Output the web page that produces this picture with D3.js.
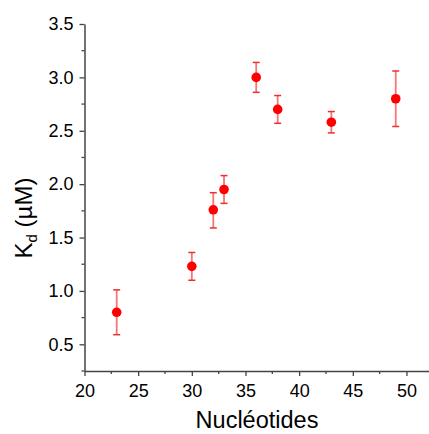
<!DOCTYPE html>
<html><head><meta charset="utf-8">
<script src="https://cdn.jsdelivr.net/npm/d3@7"></script>
<style>body{margin:0;background:#fff}svg{display:block}text{font-family:"Liberation Sans",Arial,sans-serif}</style>
</head><body>
<script>
const nucleotides = [23, 30, 32, 33, 36, 38, 43, 49];
const kd = [0.80, 1.23, 1.76, 1.95, 3.00, 2.70, 2.58, 2.80];
const errLow = [0.21, 0.13, 0.17, 0.13, 0.14, 0.13, 0.10, 0.26];
const errHigh = [0.21, 0.13, 0.16, 0.13, 0.14, 0.13, 0.10, 0.26];
const xTicks = [20, 25, 30, 35, 40, 45, 50];
const yTicks = [0.5, 1.0, 1.5, 2.0, 2.5, 3.0, 3.5];
const xMinor = [22.5, 27.5, 32.5, 37.5, 42.5, 47.5];
const yMinor = [0.25, 0.75, 1.25, 1.75, 2.25, 2.75, 3.25];

const W = 429, H = 434;
const svg = d3.select("body").append("svg").attr("width", W).attr("height", H);
const x = d3.scaleLinear().domain([20, 52.1]).range([84.5, 429]);
const y = d3.scaleLinear().domain([0.25, 3.5]).range([371, 24]);
const axisColor = "#444";

// minor ticks
svg.append("g").selectAll("line").data(xMinor).join("line")
  .attr("x1", d => x(d)).attr("x2", d => x(d)).attr("y1", 371).attr("y2", 374)
  .attr("stroke", axisColor).attr("stroke-width", 1.3);
svg.append("g").selectAll("line").data(yMinor).join("line")
  .attr("y1", d => y(d)).attr("y2", d => y(d)).attr("x1", 84.5).attr("x2", 81.5)
  .attr("stroke", axisColor).attr("stroke-width", 1.3);

const xAxis = svg.append("g").attr("transform", "translate(0,371)")
  .call(d3.axisBottom(x).tickValues(xTicks).tickSize(5).tickPadding(8).tickSizeOuter(0).tickFormat(d3.format("d")));
const yAxis = svg.append("g").attr("transform", "translate(84.5,0)")
  .call(d3.axisLeft(y).tickValues(yTicks).tickSize(5).tickPadding(6).tickSizeOuter(0).tickFormat(d3.format(".1f")));
[xAxis, yAxis].forEach(g => {
  g.select(".domain").attr("stroke", axisColor).attr("stroke-width", 1.5);
  g.selectAll(".tick line").attr("stroke", axisColor).attr("stroke-width", 1.3);
  g.selectAll("text").attr("fill", "#000").style("font-size", "18px").style("font-family", '"Liberation Sans", Arial, sans-serif');
});

// error bars
const eb = svg.append("g");
nucleotides.forEach((n, i) => {
  const cx = x(n), top = y(kd[i] + errHigh[i]), bot = y(kd[i] - errLow[i]);
  eb.append("line").attr("x1", cx).attr("x2", cx).attr("y1", top).attr("y2", bot)
    .attr("stroke", "#f04848").attr("stroke-opacity", 0.75).attr("stroke-width", 1.8);
  [top, bot].forEach(v => eb.append("line").attr("x1", cx - 3.5).attr("x2", cx + 3.5)
    .attr("y1", v).attr("y2", v).attr("stroke", "#e83030").attr("stroke-width", 1.5));
});

svg.append("g").selectAll("circle").data(nucleotides).join("circle")
  .attr("cx", d => x(d)).attr("cy", (d, i) => y(kd[i])).attr("r", 4.8).attr("fill", "#ff0000");

svg.append("text").attr("x", 257).attr("y", 428).attr("text-anchor", "middle")
  .style("font-size", "23.5px").text("Nucléotides");

const yl = svg.append("text").attr("transform", "translate(32,218) rotate(-90)").attr("text-anchor", "middle")
  .style("font-size", "24px");
yl.append("tspan").text("K");
yl.append("tspan").attr("dy", 5).style("font-size", "15px").text("d");
yl.append("tspan").attr("dy", -5).text(" (µM)");
</script>
</body></html>
